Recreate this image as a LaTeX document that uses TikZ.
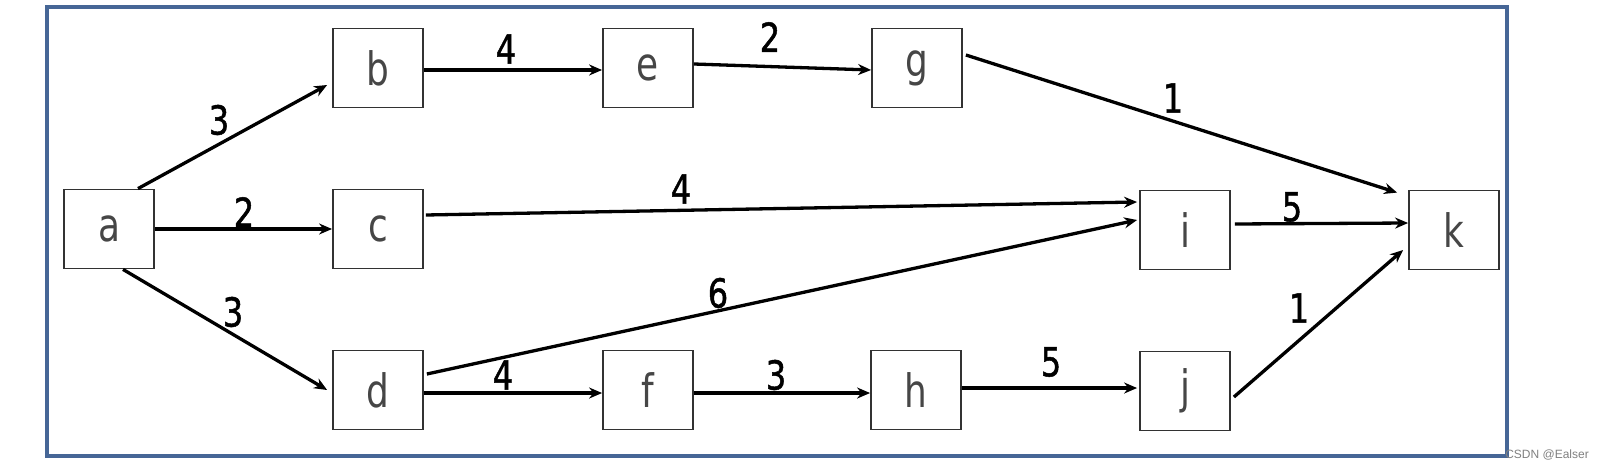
\documentclass[tikz,border=0pt]{standalone}
\usepackage{fontspec}
\usetikzlibrary{arrows.meta,calc}
\newfontfamily\lblfont[FakeStretch=0.78]{DejaVu Sans}
\newfontfamily\numfont[FakeStretch=0.8,FakeBold=1.2]{DejaVu Sans}
\newfontfamily\wmfont{Liberation Sans}
\definecolor{framecol}{RGB}{70,102,150}
\definecolor{boxcol}{RGB}{50,50,50}
\definecolor{txtcol}{RGB}{70,70,70}
\begin{document}
\begin{tikzpicture}[x=1pt,y=-1pt,
  vbox/.style={draw=boxcol,line width=1.8pt,minimum width=90pt,minimum height=79pt,inner sep=0pt,
    font=\lblfont\fontsize{46}{48}\selectfont,text=txtcol},
  wt/.style={inner sep=0pt,font=\numfont\fontsize{40}{42}\selectfont,text=black},
  arr/.style={line width=3.3pt,-{Stealth[length=13pt,width=11pt]}}]
\useasboundingbox (0,0) rectangle (1600,468);
\draw[framecol,line width=3.2pt] (47,7) rectangle (1507,456);
\node[text=gray,font=\wmfont\fontsize{12}{13}\selectfont,inner sep=0pt] (wm) at (1547,455) {CSDN @Ealser};
% nodes
\node[vbox] (a) at (109,229) {a};
\node[vbox] (b) at (378,68) {b};
\node[vbox] (c) at (378,229) {c};
\node[vbox] (d) at (378,390) {d};
\node[vbox] (e) at (648,68) {e};
\node[vbox] (f) at (648,390) {f};
\node[vbox] (g) at (917,68) {g};
\node[vbox] (h) at (916,390) {h};
\node[vbox] (i) at (1185,230) {i};
\node[vbox] (j) at (1185,391) {j};
\node[vbox] (k) at (1454,230) {k};
% edges
\draw[arr] ($(a.north)+(29,0)$) -- ($(b.west)+(-5,17)$);
\draw[arr] (a.east) -- (c.west);
\draw[arr] ($(a.south)+(14,0)$) -- ($(d.west)+(-5,0)$);
\draw[arr] ($(b.east)+(0,2)$) -- ($(e.west)+(0,2)$);
\draw[arr] ($(e.east)+(0,-4)$) -- ($(g.west)+(0,2)$);
\draw[arr] ($(g.east)+(3,-13)$) -- ($(k.north west)+(-11,3)$);
\draw[arr] ($(c.east)+(2,-14)$) -- ($(i.west)+(-2,-28)$);
\draw[arr] ($(d.east)+(3,-16)$) -- ($(i.west)+(-2,-10)$);
\draw[arr] ($(d.east)+(0,3)$) -- ($(f.west)+(0,3)$);
\draw[arr] ($(f.east)+(0,3)$) -- ($(h.west)+(0,3)$);
\draw[arr] ($(h.east)+(0,-2)$) -- ($(j.west)+(-2,-3)$);
\draw[arr] ($(i.east)+(4,-6)$) -- ($(k.west)+(0,-7)$);
\draw[arr] ($(j.east)+(3,6)$) -- ($(k.west)+(-5,20)$);
% weights
\node[wt] (w1) at (219,120) {3};
\node[wt] (w2) at (244,212) {2};
\node[wt] (w3) at (233,312) {3};
\node[wt] (w4) at (506,49) {4};
\node[wt] (w5) at (770,37) {2};
\node[wt] (w6) at (1173,98) {1};
\node[wt] (w7) at (681,189) {4};
\node[wt] (w8) at (1292,207) {5};
\node[wt] (w9) at (718,293) {6};
\node[wt] (w10) at (503,375) {4};
\node[wt] (w11) at (776,375) {3};
\node[wt] (w12) at (1051,362) {5};
\node[wt] (w13) at (1299,308) {1};
\end{tikzpicture}
\end{document}
